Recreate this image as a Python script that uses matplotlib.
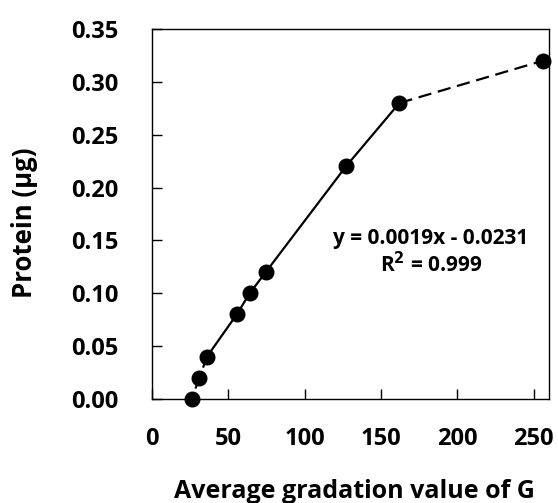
import matplotlib
matplotlib.use('Agg')
from matplotlib import pyplot as plt

plt.rcParams['font.family'] = ['Open Sans', 'DejaVu Sans']
plt.rcParams['font.weight'] = 'bold'

g_value = [26, 31, 36, 55.5, 64, 74.5, 127, 162, 256]
protein = [0.0, 0.02, 0.04, 0.08, 0.10, 0.12, 0.22, 0.28, 0.32]
x_ticks = [0, 50, 100, 150, 200, 250]
y_ticks = [0.00, 0.05, 0.10, 0.15, 0.20, 0.25, 0.30, 0.35]

fig = plt.figure(figsize=(5.58, 5.03), dpi=100)
ax = fig.add_axes([0.2724, 0.2068, 0.7115, 0.7355])

# dashed start, solid middle, dashed tail
ax.plot(g_value[:3], protein[:3], color='black', lw=1.6, ls=(0, (3, 2)))
ax.plot(g_value[2:8], protein[2:8], color='black', lw=1.6)
ax.plot(g_value[7:], protein[7:], color='black', lw=1.6, ls=(0, (6, 3)))
ax.plot(g_value, protein, 'o', color='black', ms=10.5, ls='none', clip_on=False, zorder=5)

ax.text(182.5, 0.152, 'y = 0.0019x - 0.0231', ha='center', va='center', fontsize=15, fontweight='bold')
ax.text(182.5, 0.127, 'R$^\\mathbf{2}$ = 0.999', ha='center', va='center', fontsize=15, fontweight='bold')

ax.set_xlim(0, 260)
ax.set_ylim(0, 0.35)
ax.set_xticks(x_ticks)
ax.set_yticks(y_ticks)
ax.set_yticklabels(['%.2f' % v for v in y_ticks])
ax.tick_params(direction='in', length=7, width=1, labelsize=17)
ax.tick_params(axis='y', pad=24)
ax.tick_params(axis='x', pad=20)
for s in ax.spines.values():
    s.set_linewidth(1)

ax.set_xlabel('Average gradation value of G', fontsize=18, fontweight='bold')
ax.set_ylabel('Protein (µg)', fontsize=18.5, fontweight='bold')
ax.xaxis.set_label_coords(0.511, -0.25)
ax.xaxis.label.set_va('center')
ax.yaxis.set_label_coords(-0.322, 0.476)
ax.yaxis.label.set_va('center')

fig.savefig('out.png', dpi=100)
